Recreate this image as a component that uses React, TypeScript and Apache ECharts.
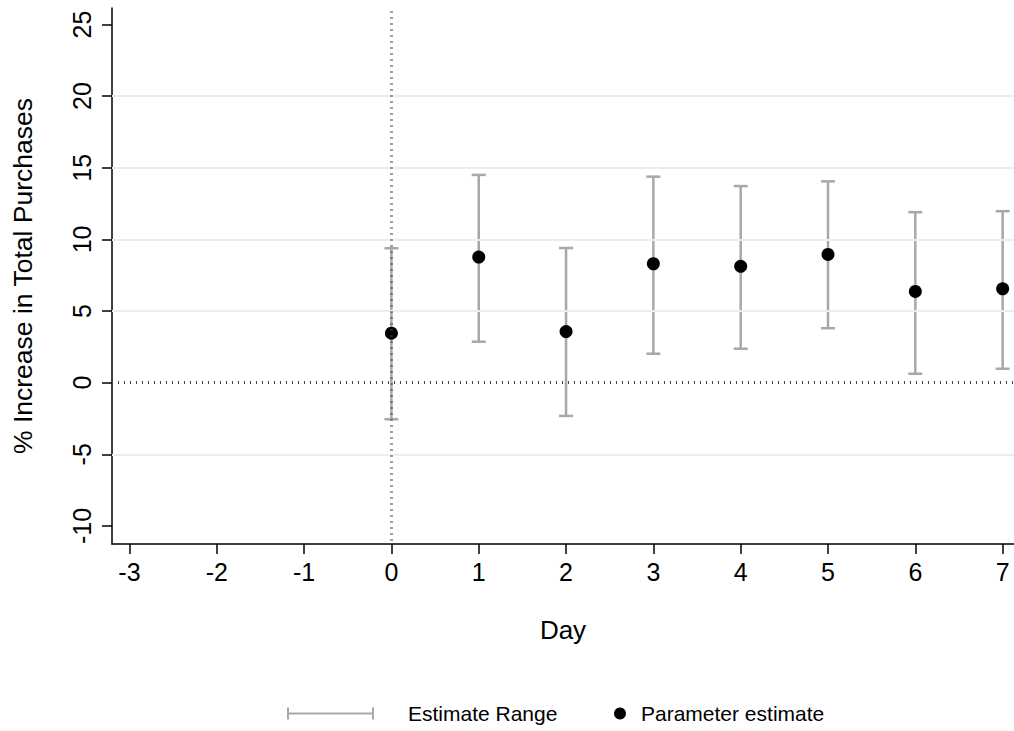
import React, { useEffect, useRef } from "react";
import * as echarts from "echarts";

const days = [0, 1, 2, 3, 4, 5, 6, 7];
const estimates = [3.45, 8.77, 3.57, 8.3, 8.12, 8.95, 6.37, 6.55];
const lowerBounds = [-2.55, 2.86, -2.32, 2.02, 2.37, 3.8, 0.62, 0.97];
const upperBounds = [9.38, 14.5, 9.4, 14.38, 13.72, 14.05, 11.9, 11.97];
const xTicks = [-3, -2, -1, 0, 1, 2, 3, 4, 5, 6, 7];
const yTicks = [-10, -5, 0, 5, 10, 15, 20, 25];
const gridLinesY = [-5, 5, 10, 15, 20];

const FONT = "'Liberation Sans', Arial, Helvetica, sans-serif";
const BAR_COLOR = "#a8a8a8";

export default function App() {
  const ref = useRef<HTMLDivElement>(null);

  useEffect(() => {
    if (!ref.current) return;
    const chart = echarts.init(ref.current, undefined, { renderer: "svg" });
    const option: any = {
      animation: false,
      backgroundColor: "#ffffff",
      textStyle: { fontFamily: FONT },
      grid: { left: 112, right: 0, top: 8, bottom: 187, containLabel: false },
      xAxis: {
        type: "value",
        min: -3.2,
        max: 7.13,
        name: "Day",
        nameLocation: "middle",
        nameGap: 73,
        nameTextStyle: { fontSize: 26, color: "#000", fontFamily: FONT },
        axisLine: { show: true, onZero: false, lineStyle: { color: "#000", width: 1.5 } },
        axisTick: { show: true, length: 10, customValues: xTicks, lineStyle: { color: "#000", width: 1.5 } },
        axisLabel: { customValues: xTicks, fontSize: 25, color: "#000", margin: 15, fontFamily: FONT },
        splitLine: { show: false },
      },
      yAxis: {
        type: "value",
        min: -11.26,
        max: 26.15,
        name: "% Increase in Total Purchases",
        nameLocation: "middle",
        nameGap: 76,
        nameTextStyle: { fontSize: 26.5, color: "#000", fontFamily: FONT },
        axisLine: { show: true, onZero: false, lineStyle: { color: "#000", width: 1.5 } },
        axisTick: { show: true, length: 10, customValues: yTicks, lineStyle: { color: "#000", width: 1.5 } },
        axisLabel: { customValues: yTicks, rotate: 90, fontSize: 25, color: "#000", margin: 18, fontFamily: FONT },
        splitLine: { show: false },
      },
      legend: [
        {
          data: ["Estimate Range"],
          left: 287,
          top: 703,
          padding: 0,
          orient: "horizontal",
          itemWidth: 87,
          itemHeight: 12,
          icon: "path://M0,0 L2,0 L2,12 L0,12 Z M0,5 L87,5 L87,7 L0,7 Z M85,0 L87,0 L87,12 L85,12 Z",
          textStyle: { fontSize: 21, color: "#000", fontFamily: FONT, padding: [0, 0, 0, 29] },
          selectedMode: false,
        },
        {
          data: ["Parameter estimate"],
          left: 614,
          top: 703,
          padding: 0,
          itemWidth: 12,
          itemHeight: 12,
          icon: "circle",
          textStyle: { fontSize: 21, color: "#000", fontFamily: FONT, padding: [0, 0, 0, 10] },
          selectedMode: false,
        },
      ],
      series: [
        {
          name: "gridlines",
          type: "line",
          data: [],
          z: 0,
          silent: true,
          markLine: {
            silent: true,
            symbol: "none",
            label: { show: false },
            lineStyle: { color: "#e6eff1", width: 2, type: "solid" },
            data: gridLinesY.map((v) => ({ yAxis: v })),
          },
        },
        {
          name: "Estimate Range",
          type: "custom",
          z: 2,
          itemStyle: { color: BAR_COLOR },
          encode: { x: 0, y: [1, 2] },
          data: days.map((d, i) => [d, lowerBounds[i], upperBounds[i]]),
          renderItem: (params: any, api: any) => {
            const x = api.value(0);
            const lo = api.coord([x, api.value(1)]);
            const hi = api.coord([x, api.value(2)]);
            const hw = 7;
            const st = { stroke: BAR_COLOR, lineWidth: 2.5 };
            return {
              type: "group",
              children: [
                { type: "line", shape: { x1: lo[0], y1: lo[1], x2: hi[0], y2: hi[1] }, style: st },
                { type: "line", shape: { x1: lo[0] - hw, y1: lo[1], x2: lo[0] + hw, y2: lo[1] }, style: st },
                { type: "line", shape: { x1: hi[0] - hw, y1: hi[1], x2: hi[0] + hw, y2: hi[1] }, style: st },
              ],
            };
          },
        },
        {
          name: "reference",
          type: "line",
          data: [],
          z: 3,
          silent: true,
          markLine: {
            silent: true,
            symbol: "none",
            label: { show: false },
            lineStyle: { color: "#444", width: 3, type: [1, 5] },
            data: [{ yAxis: 0 }, [{ coord: [0, 25.9] }, { coord: [0, -11.26] }]],
          },
        },
        {
          name: "Parameter estimate",
          type: "scatter",
          z: 4,
          symbol: "circle",
          symbolSize: 13,
          itemStyle: { color: "#000", opacity: 1 },
          data: days.map((d, i) => [d, estimates[i]]),
        },
      ],
    };
    chart.setOption(option);
    return () => chart.dispose();
  }, []);

  return (
    <div
      ref={ref}
      style={{ position: "fixed", left: 0, top: 0, width: 1014, height: 731, background: "#fff" }}
    />
  );
}
